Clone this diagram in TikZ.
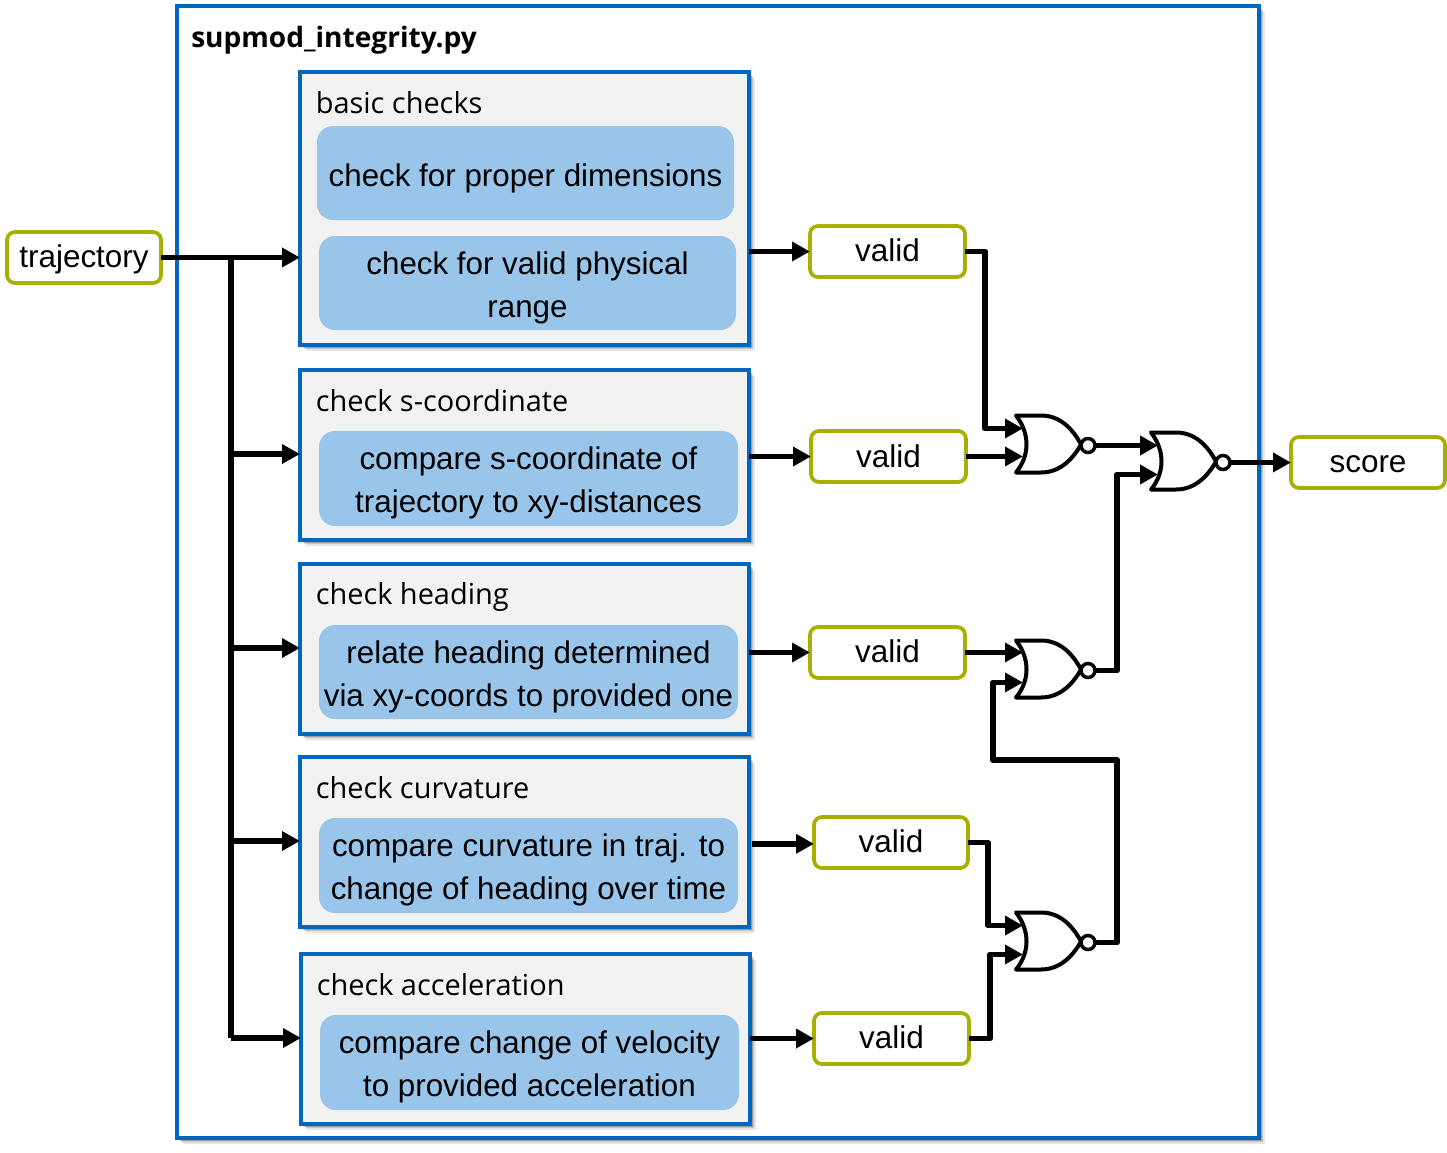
\documentclass[tikz,border=0pt]{standalone}
\usepackage{fontspec}
\setmainfont{Liberation Sans}
\newfontfamily\headfont{Open Sans}
\usetikzlibrary{arrows.meta,shadows}
\definecolor{frameblue}{HTML}{0066BE}
\definecolor{fillblue}{HTML}{9AC5EA}
\definecolor{panel}{HTML}{F2F2F2}
\definecolor{olive}{HTML}{A8AF00}
\tikzset{
  size/.style 2 args={minimum width=#1*0.75pt,minimum height=#2*0.75pt},
  softshadow/.style={
    general shadow={shadow xshift=4.4pt,shadow yshift=-4.4pt,opacity=.10,fill=black},
    general shadow={shadow xshift=3.2pt,shadow yshift=-3.2pt,opacity=.14,fill=black},
    general shadow={shadow xshift=2pt,shadow yshift=-2pt,opacity=.2,fill=black}},
  outerbox/.style={draw=frameblue,line width=2.3pt,fill=white,softshadow,inner sep=0pt,outer sep=0pt},
  panelbox/.style={draw=frameblue,line width=2.3pt,fill=panel,softshadow,inner sep=0pt,outer sep=0pt},
  task/.style={fill=fillblue,rounded corners=12pt,inner sep=0pt,outer sep=0pt},
  tasktext/.style={inner sep=0pt,align=center,font=\fontsize{23.5}{32.3}\selectfont},
  signal/.style={draw=olive,fill=white,line width=2.8pt,rounded corners=6pt,inner sep=0pt,outer sep=0pt,
    font=\fontsize{23.6}{28}\selectfont},
  paneltitle/.style={anchor=base west,inner sep=0pt,font=\headfont\fontsize{21.7}{26}\selectfont},
  wire/.style={line width=4.4pt,line join=round,-{Triangle[length=13.5pt,width=14pt]}},
  busline/.style={line width=4.4pt,line join=round},
  pics/norgate/.style={code={
    \draw[line width=3pt,line join=round,fill=white]
      (0,0) -- (25,0) .. controls (43,0) and (56,12) .. (65,29)
      .. controls (56,45) and (43,57) .. (25,57) -- (0,57)
      .. controls (14,40) and (14,18) .. (0,0) -- cycle;
    \node[circle,draw,line width=2.6pt,fill=white,minimum size=10.5pt,inner sep=0pt,outer sep=0pt] (-bubble) at (72,30) {};
    \coordinate (-inA) at (7,13);
    \coordinate (-inB) at (7,42);
  }}
}
\begin{document}
\begin{tikzpicture}[x=0.75pt,y=-0.75pt]
\useasboundingbox (0,0) rectangle (1447,1153);
\node[outerbox,size={1082}{1132}] (module) at (718,572) {};
\node[anchor=base west,inner sep=0pt,font=\headfont\bfseries\fontsize{21.05}{25}\selectfont] (modtitle) at (191,47) {supmod\_integrity.py};

\node[panelbox,size={449}{273}] (p1) at (524.5,208.5) {};
\node[panelbox,size={449}{170}] (p2) at (524.5,455) {};
\node[panelbox,size={449}{170}] (p3) at (524.5,649) {};
\node[panelbox,size={449}{170}] (p4) at (524.5,842) {};
\node[panelbox,size={449}{170}] (p5) at (525.5,1039) {};

\node[paneltitle] (t1) at (315.5,113) {basic checks};
\node[paneltitle] (t2) at (315.5,411) {check s-coordinate};
\node[paneltitle] (t3) at (315.5,604) {check heading};
\node[paneltitle] (t4) at (315.5,798) {check curvature};
\node[paneltitle] (t5) at (316.5,995) {check acceleration};

\node[task,size={417}{94}] (c1) at (525.5,173) {};
\node[task,size={417}{94}] (c2) at (527.5,283) {};
\node[task,size={419}{95}] (c3) at (528.5,478.5) {};
\node[task,size={419}{94}] (c4) at (528.5,672) {};
\node[task,size={419}{95}] (c5) at (528.5,865.5) {};
\node[task,size={419}{95}] (c6) at (529.5,1062.5) {};
\node[tasktext] (c1t) at ([yshift=-3.75pt]c1.center) {check for proper dimensions};
\node[tasktext] (c2t) at ([yshift=-3.6pt]c2.center) {check for valid physical\\range};
\node[tasktext] (c3t) at ([yshift=-3pt]c3.center) {compare s-coordinate of\\trajectory to xy-distances};
\node[tasktext] (c4t) at ([yshift=-3.75pt]c4.center) {relate heading determined\\via xy-coords to provided one};
\node[tasktext] (c5t) at ([yshift=-3pt]c5.center) {compare curvature in traj. to\\change of heading over time};
\node[tasktext] (c6t) at ([yshift=-3pt]c6.center) {compare change of velocity\\to provided acceleration};

\node[signal,size={154}{51},text height=17pt,text depth=2pt] (traj) at (84,257.5) {trajectory};
\node[signal,size={155}{51},text height=15pt,text depth=0pt] (v1) at (887.5,251.5) {valid};
\node[signal,size={155}{51}] (v2) at (888.5,456.5) {valid};
\node[signal,size={155}{51},text height=15pt,text depth=0pt] (v3) at (887.5,652.5) {valid};
\node[signal,size={154}{51},text height=15pt,text depth=0pt] (v4) at (891,842.5) {valid};
\node[signal,size={155}{51},text height=15pt,text depth=0pt] (v5) at (891.5,1038.5) {valid};
\node[signal,size={154}{51},text height=15.6pt,text depth=0pt] (score) at (1368,462.5) {score};

\pic (g1) at (1016,415.5) {norgate};
\pic (g2) at (1151,432.5) {norgate};
\pic (g3) at (1016,640.5) {norgate};
\pic (g4) at (1016,912.5) {norgate};

\coordinate (bustop) at (231,257.5);
\coordinate (busbottom) at (231,1038);
\draw[wire] (traj.east) -- (traj.east -| p1.west);
\draw[busline] (bustop) -- (busbottom);
\draw[wire] (bustop |- p2.west) ++(0,-1) -- ([yshift=.75pt]p2.west);
\draw[wire] (bustop |- p3.west) ++(0,-1) -- ([yshift=.75pt]p3.west);
\draw[wire] (bustop |- p4.west) ++(0,-1) -- ([yshift=.75pt]p4.west);
\draw[wire] (busbottom) -- (busbottom -| p5.west);

\draw[wire] (v1.west -| p1.east) -- (v1.west);
\draw[wire] (v2.west -| p2.east) -- (v2.west);
\draw[wire] (v3.west -| p3.east) -- (v3.west);
\draw[wire] ([xshift=2pt,yshift=-1pt]v4.west -| p4.east) -- ([yshift=-1pt]v4.west);
\draw[wire] (v5.west -| p5.east) -- (v5.west);

\coordinate (j1) at (985,0);
\coordinate (j4) at (988,0);
\coordinate (j5) at (990,0);
\coordinate (j3) at (1117,0);
\coordinate (j6) at (993,760);
\draw[wire] (v1.east) -| (j1 |- g1-inA) -- (g1-inA);
\draw[wire] (v2.east) -- (v2.east -| g1-inB);
\draw[wire] (v3.east) -- (v3.east -| g3-inA);
\draw[wire] (v4.east) -| (j4 |- g4-inA) -- (g4-inA);
\draw[wire] (v5.east) -| (j5 |- g4-inB) -- (g4-inB);
\draw[wire] (g1-bubble.east) -- (g1-bubble.east -| g2-inA);
\draw[wire] (g3-bubble.east) -| (j3 |- g2-inB) -- (g2-inB);
\draw[wire] (g4-bubble.east) -| (j3 |- j6) -- (j6) -- (j6 |- g3-inB) -- (g3-inB);
\draw[wire] (g2-bubble.east) -- (g2-bubble.east -| score.west);
\end{tikzpicture}
\end{document}
